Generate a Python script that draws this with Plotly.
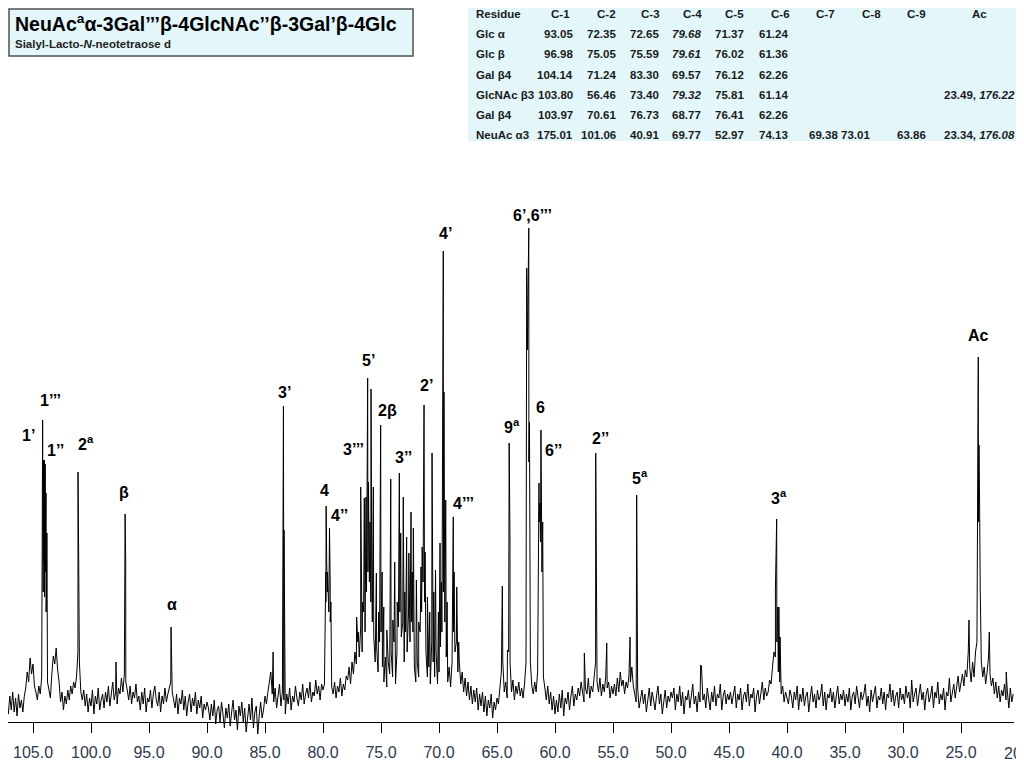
import numpy as np
import plotly.graph_objects as go

# -----------------------------
# Spectrum data (13C NMR, ppm / arbitrary intensity)
# -----------------------------
# baseline samples, one every 0.125 ppm from 107.25 down to 20.5 ppm
baseline = [
    # 107.25 - 105.75
    20, 8, 26, 12, 30, 10, 24, 6, 28, 14, 22, 10, 26,
    # 105.625 - 104.75
    34, 50, 40, 64, 48, 58, 36, 30,
    # 104.625 - 103.5
    22, 36, 28, 45, 130, 125, 110, 40, 30, 24,
    # 103.375 - 102.75
    48, 66, 58, 74, 52, 40,
    # 102.625 - 100.5
    20, 30, 12, 26, 18, 32, 22, 36, 28, 40, 34, 45, 70, 60, 30, 22, 32, 16,
    # 100.375 - 97.25
    28, 10, 24, 16, 32, 8, 26, 18, 34, 12, 22, 28, 14, 30, 20, 36, 16, 26, 40, 22,
    30, 18, 34, 28, 44, 30,
    # 97.125 - 96.0
    48, 40, 32, 22, 36, 18, 30, 24, 38, 20,
    # 95.875 - 93.25
    26, 12, 30, 18, 34, 10, 24, 20, 32, 14, 28, 36, 22, 16, 30, 10, 26, 18, 34, 20, 28, 36,
    # 93.125 - 90.0
    40, 30, 22, 14, 28, 8, 24, 18, 32, 12, 26, 6, 20, 28, 10, 24, 16, 30, 8, 22,
    14, 26, 4, 18, 12, 20,
    # 89.875 - 85.0
    14, 2, 18, 6, 22, -2, 12, 16, 0, 20, 8, -6, 14, 4, 18, -4, 10, 22, 2, 12,
    -8, 16, 6, 20, 0, 14, -10, 8, 18, 2, 24, -6, 10, 16, -12, 6, 20, 4, 12, 26,
    # 84.875 - 80.0
    18, 30, 42, 50, 28, 20, 34, 14, 26, 38, 16, 30, 22, 8, 28, 18, 34, 12, 26, 20,
    36, 24, 16, 30, 22, 38, 18, 28, 34, 24, 40, 20, 30, 26, 42, 28, 36, 22, 38, 32,
    # 79.875 - 78.0
    38, 120, 130, 110, 100, 35, 28, 40, 24, 36, 30, 44, 26, 38, 32, 46,
    # 77.875 - 69.0 (broad ring-carbon envelope)
    42, 55, 38, 60, 48, 70, 58, 80, 65, 95, 70, 110, 90, 130, 150, 140, 120, 100,
    85, 60, 75, 50, 80, 90, 55, 40, 65, 35, 60, 48, 70, 45, 80, 38, 70, 95,
    110, 85, 100, 60, 90, 70, 110, 80, 100, 90, 55, 40, 60, 45, 90, 110,
    140, 120, 70, 45, 55, 38, 80, 60, 45, 70, 38, 50, 75, 90, 130, 100, 65, 40, 55, 35,
    # 68.875 - 65.0
    60, 90, 70, 80, 50, 60, 38, 50, 30, 44, 26, 40, 22, 36, 18, 32,
    20, 34, 12, 28, 16, 30, 10, 26, 6, 22, 14, 28, 4, 20, 12, 24,
    # 64.875 - 60.0
    18, 32, 50, 60, 30, 40, 24, 70, 60, 30, 42, 22, 36, 28, 40, 26, 34, 24, 38, 60,
    380, 260, 60, 36, 28, 40, 30, 50, 200, 180, 150, 45, 34, 22, 36, 18, 30, 12, 26, 8,
    # 59.875 - 55.0
    22, 10, 28, 14, 32, 6, 24, 18, 30, 12, 26, 36, 16, 28, 22, 34, 26, 40, 30, 20,
    34, 28, 44, 24, 36, 30, 42, 60, 40, 30, 44, 26, 38, 30, 46, 34, 40, 24, 36, 28,
    # 54.875 - 50.0
    38, 26, 44, 30, 50, 36, 42, 28, 40, 34, 46, 40, 55, 36, 28, 20, 34, 14, 26, 32,
    18, 28, 10, 24, 34, 16, 30, 22, 12, 26, 36, 18, 28, 8, 24, 32, 14, 26, 20, 30,
    # 49.875 - 45.0
    24, 34, 12, 28, 20, 36, 16, 30, 8, 26, 22, 32, 14, 28, 38, 18, 26, 10, 30, 20,
    56, 22, 28, 14, 34, 24, 12, 30, 20, 36, 16, 28, 24, 38, 12, 26, 32, 18, 28, 22,
    # 44.875 - 40.0
    30, 18, 26, 36, 14, 28, 22, 34, 12, 26, 30, 20, 38, 16, 28, 24, 34, 10, 26, 32,
    18, 28, 40, 22, 34, 26, 30, 42, 38, 55, 70, 65, 80, 50, 40, 28, 36, 20, 30, 24,
    # 39.875 - 35.0
    18, 32, 26, 14, 30, 22, 36, 12, 28, 20, 34, 16, 26, 30, 10, 24, 36, 20, 28, 14,
    32, 22, 26, 38, 16, 30, 12, 28, 24, 34, 20, 30, 14, 26, 36, 18, 28, 22, 32, 16,
    # 34.875 - 30.0
    28, 20, 34, 12, 26, 30, 18, 36, 24, 14, 30, 22, 28, 38, 16, 26, 10, 32, 20, 28,
    36, 14, 26, 22, 34, 18, 30, 12, 28, 24, 38, 20, 32, 16, 26, 30, 14, 34, 22, 28,
    # 29.875 - 25.0
    18, 36, 24, 30, 14, 42, 20, 28, 34, 16, 26, 38, 22, 30, 12, 28, 34, 20, 26, 36,
    14, 30, 24, 40, 18, 28, 22, 34, 12, 30, 26, 44, 20, 32, 38, 24, 36, 46, 30, 40,
    # 24.875 - 20.5
    48, 36, 52, 45, 70, 55, 40, 60, 45, 70, 80, 200, 150, 60, 45, 55, 38, 50,
    65, 48, 36, 44, 28, 40, 24, 36, 20, 32, 26, 38, 22, 30, 14, 34, 20, 28,
]

# resonance lines: position (ppm) and apex intensity
peak_ppm = [
    104.17, 104.12, 104.10, 104.06, 104.02, 103.98, 103.95, 103.91, 103.88, 103.84, 103.80,
    101.12, 101.06, 101.02, 97.85, 97.06, 97.01, 93.10, 93.06,
    84.30, 83.41, 83.36, 79.76, 79.73, 79.68, 79.61, 79.44, 79.38, 79.32,
    77.10, 76.95, 76.75, 76.60, 76.44, 76.35, 76.29, 76.15, 76.08, 75.95, 75.86, 75.80,
    75.66, 75.40, 75.20, 75.03, 74.90, 74.76, 74.50, 74.16, 73.98, 73.82, 73.60, 73.42,
    73.30, 73.08, 72.95, 72.79, 72.60, 72.41, 72.30, 72.21, 71.95, 71.75, 71.55, 71.45,
    71.29, 71.20, 71.00, 70.80, 70.60, 70.45, 70.30, 70.05, 69.91, 69.80, 69.63, 69.57,
    69.42, 69.30, 68.77, 68.70, 68.47, 68.30,
    64.54, 64.10, 63.95, 63.88, 62.44, 62.38, 62.26, 62.20, 61.38, 61.30, 61.21, 61.14, 61.06,
    57.47, 56.49, 56.45, 55.54, 53.53, 52.96, 52.92, 47.44,
    41.00, 40.89, 40.80, 40.70, 40.60,
    24.40, 24.31, 23.51, 23.45, 23.40, 23.34, 22.56, 21.10,
]
peak_int = [
    302, 150, 262, 160, 262, 170, 258, 150, 229, 120, 189,
    250, 162, 90, 60, 208, 162, 95, 70,
    70, 316, 192, 150, 216, 159, 150, 194, 140, 120,
    105, 90, 235, 120, 224, 150, 225, 344, 240, 200, 333, 160,
    235, 149, 110, 297, 150, 115, 92, 243, 102, 160, 120, 249,
    189, 225, 130, 185, 169, 210, 150, 194, 142, 100, 155, 175,
    317, 170, 125, 110, 269, 130, 152, 110, 179, 140, 471, 330,
    222, 120, 205, 150, 135, 80,
    136, 72, 279, 180, 454, 372, 494, 300, 239, 219, 292, 170, 200,
    69, 269, 195, 79, 85, 227, 160, 57,
    132, 203, 115, 115, 85,
    62, 102, 365, 277, 222, 130, 90, 50,
]

# peak assignments (label, ppm, intensity where the label sits)
peak_labels = [
    ("1’", 105.43, 287), ("1’’’", 103.53, 322), ("1’’", 103.10, 272),
    ("2<sup>a</sup>", 100.43, 279), ("β", 97.16, 230), ("α", 93.02, 118),
    ("3’", 83.28, 330), ("4", 79.83, 232), ("4’’", 78.62, 207),
    ("3’’’", 77.33, 273), ("5’", 76.12, 362), ("2β", 74.40, 312),
    ("3’’", 73.02, 265), ("2’", 71.12, 337), ("4’’’", 67.93, 219),
    ("4’", 69.48, 489), ("6’,6’’’", 61.90, 507), ("9<sup>a</sup>", 63.71, 296),
    ("6", 61.29, 315), ("6’’", 60.17, 272), ("2’’", 56.12, 284),
    ("5<sup>a</sup>", 52.67, 245), ("3<sup>a</sup>", 40.69, 225), ("Ac", 23.53, 387),
]

tick_ppm = [105, 100, 95, 90, 85, 80, 75, 70, 65, 60, 55, 50, 45, 40, 35, 30, 25]

# -----------------------------
# Chemical shift table
# -----------------------------
table_cols = ["C-1", "C-2", "C-3", "C-4", "C-5", "C-6", "C-7", "C-8", "C-9", "Ac"]
table_rows = ["Glc α", "Glc β", "Gal β4", "GlcNAc β3", "Gal β4", "NeuAc α3"]
table_vals = [
    ["93.05", "72.35", "72.65", "<i>79.68</i>", "71.37", "61.24", "", "", "", ""],
    ["96.98", "75.05", "75.59", "<i>79.61</i>", "76.02", "61.36", "", "", "", ""],
    ["104.14", "71.24", "83.30", "69.57", "76.12", "62.26", "", "", "", ""],
    ["103.80", "56.46", "73.40", "<i>79.32</i>", "75.81", "61.14", "", "", "", "23.49, <i>176.22</i>"],
    ["103.97", "70.61", "76.73", "68.77", "76.41", "62.26", "", "", "", ""],
    ["175.01", "101.06", "40.91", "69.77", "52.97", "74.13", "69.38", "73.01", "63.86", "23.34, <i>176.08</i>"],
]

# -----------------------------
# Geometry (page pixels -> paper); the page body adds an 8px offset
# -----------------------------
OFF = 8
W, H = 1016, 760
L, R, T, B = 0, 10, 142, 26
PW, PH = W - L - R, H - T - B
Y_MIN, Y_MAX = -20, PH - 20
FONT = "Liberation Sans, Arial, sans-serif"
BOX_FILL = "#e3f7fb"
TICK_COLOR = "#2e3a4e"


def px(x):
    return (x - OFF - L) / PW


def py(y):
    return (H - B - (y - OFF)) / PH


# -----------------------------
# Build spectrum trace
# -----------------------------
grid = 107.25 - 0.125 * np.arange(len(baseline))
xs = np.concatenate([grid, np.array(peak_ppm)])
ys = np.concatenate([np.array(baseline, dtype=float), np.array(peak_int, dtype=float)])
order = np.argsort(-xs, kind="stable")

fig = go.Figure()
fig.add_trace(go.Scatter(
    x=xs[order], y=ys[order], mode="lines",
    line=dict(color="black", width=1), hoverinfo="skip", showlegend=False,
))

annotations = []
for text, x, y in peak_labels:
    annotations.append(dict(
        x=x, y=y, xref="x", yref="y", text="<b>" + text + "</b>", showarrow=False,
        font=dict(family=FONT, size=16, color="black"), xanchor="center", yanchor="middle",
    ))

# clipped "20.0" tick label at the right edge
annotations.append(dict(
    x=px(1019), y=py(753), xref="paper", yref="paper", text="20.0", showarrow=False,
    font=dict(family=FONT, size=16, color=TICK_COLOR), xanchor="center", yanchor="middle",
))

# title box + table background
shapes = [
    dict(type="rect", xref="paper", yref="paper", x0=px(9), x1=px(413), y0=py(56), y1=py(9),
         fillcolor=BOX_FILL, line=dict(color="#505050", width=1.5), layer="below"),
    dict(type="rect", xref="paper", yref="paper", x0=px(468), x1=px(1030), y0=py(141), y1=py(8),
         fillcolor=BOX_FILL, line=dict(width=0), layer="below"),
]
annotations.append(dict(
    x=px(13), y=py(23), xref="paper", yref="paper", showarrow=False, xanchor="left", yanchor="middle",
    text="<b>NeuAc<sup>a</sup>α-3Gal’’’β-4GlcNAc’’β-3Gal’β-4Glc</b>",
    font=dict(family=FONT, size=19.5, color="black"),
))
annotations.append(dict(
    x=px(13), y=py(44), xref="paper", yref="paper", showarrow=False, xanchor="left", yanchor="middle",
    text="<b>Sialyl-Lacto-<i>N</i>-neotetraose d</b>",
    font=dict(family=FONT, size=11.5, color="#222222"),
))

# shift table
col_head_x = [560, 606, 650, 692, 734, 780, 825, 871, 916, 979]
col_val_x = [575, 618, 661, 703, 746, 790, 840, 872, 928, 979]
row_y = [14 + 20.2 * i for i in range(len(table_rows) + 1)]
tfont = dict(family=FONT, size=11.5, color="#1a1a1a")

annotations.append(dict(x=px(474), y=py(row_y[0]), xref="paper", yref="paper", showarrow=False,
                        xanchor="left", yanchor="middle", text="<b>Residue</b>", font=tfont))
for j, c in enumerate(table_cols):
    annotations.append(dict(x=px(col_head_x[j]), y=py(row_y[0]), xref="paper", yref="paper",
                            showarrow=False, xanchor="center", yanchor="middle",
                            text="<b>" + c + "</b>", font=tfont))
for i, name in enumerate(table_rows):
    annotations.append(dict(x=px(474), y=py(row_y[i + 1]), xref="paper", yref="paper", showarrow=False,
                            xanchor="left", yanchor="middle", text="<b>" + name + "</b>", font=tfont))
    for j, v in enumerate(table_vals[i]):
        if not v:
            continue
        anchor = "center" if table_cols[j] == "Ac" else "right"
        annotations.append(dict(x=px(col_val_x[j]), y=py(row_y[i + 1]), xref="paper", yref="paper",
                                showarrow=False, xanchor=anchor, yanchor="middle",
                                text="<b>" + v + "</b>", font=tfont))

# x range follows the page pixels: 105 ppm at x=33, 11.6 px per ppm
x_left = 105 + (33 - OFF - L) / 11.6
x_right = 105 - (OFF + L + PW - 33) / 11.6

fig.update_layout(
    width=W, height=H,
    margin=dict(l=L, r=R, t=T, b=B),
    paper_bgcolor="white", plot_bgcolor="white",
    xaxis=dict(
        range=[x_left, x_right], tickvals=tick_ppm, ticktext=["%.1f" % t for t in tick_ppm],
        ticks="outside", ticklen=10, tickcolor="black", tickwidth=1,
        showline=True, linecolor="black", linewidth=1,
        showgrid=False, zeroline=False, anchor="free", position=py(722),
        tickfont=dict(family=FONT, size=16, color=TICK_COLOR), ticklabelstandoff=6,
    ),
    yaxis=dict(range=[Y_MIN, Y_MAX], visible=False, fixedrange=True),
    shapes=shapes,
    annotations=annotations,
)

fig.write_html("out.html")
